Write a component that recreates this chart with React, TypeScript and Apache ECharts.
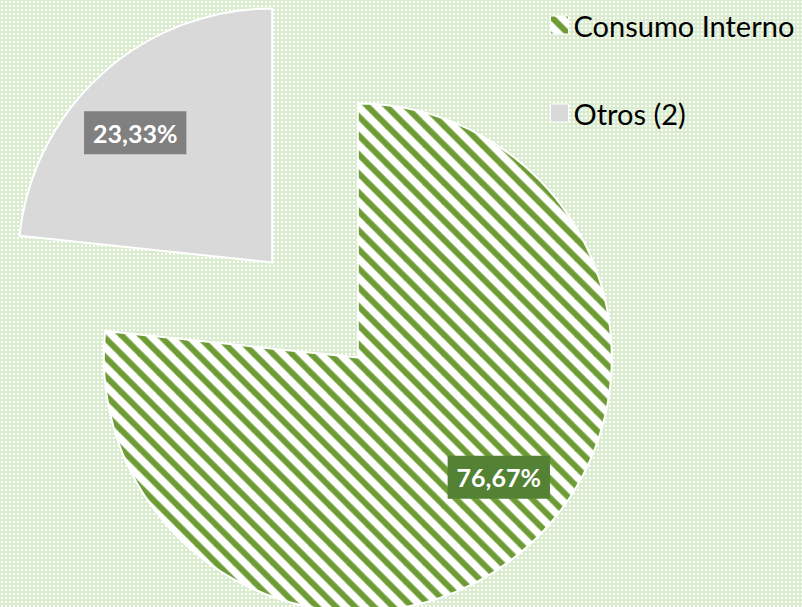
import React, { useEffect, useRef } from "react";
import * as echarts from "echarts";

const categories = ["Consumo Interno", "Otros (2)"];
const values = [76.67, 23.33];

function makeStripeTile(): HTMLCanvasElement {
  const P = 19;
  const c = document.createElement("canvas");
  c.width = P;
  c.height = P;
  const ctx = c.getContext("2d")!;
  ctx.fillStyle = "#ffffff";
  ctx.fillRect(0, 0, P, P);
  ctx.strokeStyle = "#6d9c35";
  ctx.lineWidth = 6;
  for (const k of [-P, 0, P]) {
    ctx.beginPath();
    ctx.moveTo(-3, -3 + k);
    ctx.lineTo(P + 3, P + 3 + k);
    ctx.stroke();
  }
  return c;
}

function makeDotTile(): string {
  const c = document.createElement("canvas");
  c.width = 4;
  c.height = 4;
  const ctx = c.getContext("2d")!;
  ctx.fillStyle = "#d9ecce";
  ctx.fillRect(0, 0, 4, 4);
  ctx.fillStyle = "#ffffff";
  ctx.fillRect(1, 1, 2, 2);
  return c.toDataURL();
}

export default function App() {
  const ref = useRef<HTMLDivElement>(null);

  useEffect(() => {
    if (!ref.current) return;
    ref.current.style.backgroundImage = `url(${makeDotTile()})`;
    const chart = echarts.init(ref.current, undefined, { renderer: "svg" });
    const stripe = makeStripeTile();
    const colors: any[] = [
      { image: stripe, repeat: "repeat" },
      "#d9d9d9",
    ];
    const labelBg = ["#548235", "#808080"];
    const labelShift = [
      [54, 23],
      [-50, -33],
    ];
    chart.setOption({
      animation: false,
      backgroundColor: "transparent",
      legend: {
        orient: "vertical",
        left: 545,
        top: 4,
        itemWidth: 18,
        itemHeight: 18,
        itemGap: 56,
        itemStyle: { borderColor: "#ffffff", borderWidth: 1 },
        icon: "rect",
        selectedMode: false,
        textStyle: {
          fontFamily: "Lato",
          fontSize: 29,
          color: "#000000",
          lineHeight: 32,
          padding: [0, 0, 0, 0],
        },
        data: categories,
      },
      series: [
        {
          type: "pie",
          center: [315, 310],
          radius: 254,
          startAngle: 90,
          clockwise: true,
          selectedMode: "multiple",
          selectedOffset: 64,
          emphasis: { disabled: true, scale: false },
          itemStyle: { borderColor: "#ffffff", borderWidth: 2 },
          label: {
            show: true,
            position: "inside",
            fontFamily: "Lato",
            fontWeight: "bold",
            fontSize: 25,
            lineHeight: 29,
            color: "#ffffff",
            padding: [7, 9, 7, 9],
            formatter: (p: any) => p.value.toFixed(2).replace(".", ",") + "%",
          },
          labelLine: { show: false },
          labelLayout: (p: any) => ({
            dx: labelShift[p.dataIndex][0],
            dy: labelShift[p.dataIndex][1],
          }),
          data: categories.map((name, i) => ({
            name,
            value: values[i],
            selected: true,
            itemStyle: { color: colors[i] },
            label: { backgroundColor: labelBg[i] },
          })),
        },
      ],
    });
    return () => chart.dispose();
  }, []);

  return (
    <div
      ref={ref}
      style={{
        position: "fixed",
        left: 0,
        top: 0,
        width: 802,
        height: 607,
        backgroundColor: "#d9ecce",
        backgroundRepeat: "repeat",
      }}
    />
  );
}
